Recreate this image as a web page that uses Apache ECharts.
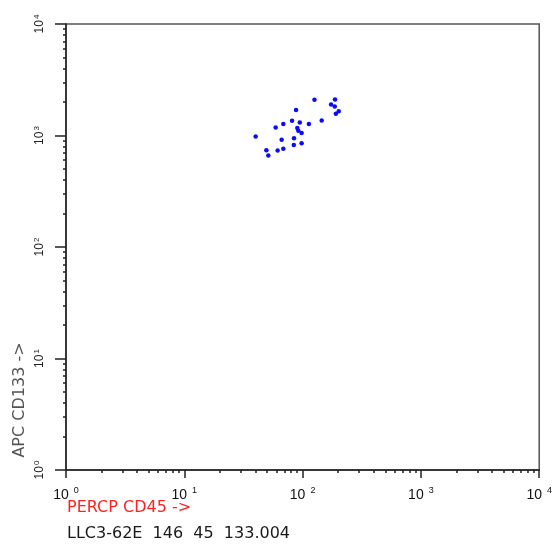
<!DOCTYPE html>
<html><head><meta charset="utf-8">
<script src="https://cdn.jsdelivr.net/npm/echarts@6/dist/echarts.min.js"></script>
<style>html,body{margin:0;padding:0;background:#fff}#c{width:555px;height:547px}</style>
</head><body><div id="c"></div>
<script>
const xValues = [40.1, 49.4, 51.3, 59.2, 61.5, 66.5, 68.7, 68.7, 81.4, 84.6, 84.3, 88.0, 90.2, 92.0, 94.7, 98.1, 98.1, 113, 126, 145, 174, 188, 187, 202, 191];
const yValues = [979, 739, 661, 1180, 733, 915, 759, 1267, 1356, 943, 821, 1696, 1166, 1102, 1309, 1051, 854, 1267, 2096, 1365, 1897, 2104, 1824, 1651, 1568];
const decadeTicks = [1, 10, 100, 1000, 10000];
const exponentLabels = ['0', '1', '2', '3', '4'];
const minorTicks = [2,3,4,5,6,7,8,9,20,30,40,50,60,70,80,90,200,300,400,500,600,700,800,900,2000,3000,4000,5000,6000,7000,8000,9000];
const xTitle = 'PERCP CD45 ->';
const yTitle = 'APC CD133 ->';
const footer = 'LLC3-62E  146  45  133.004';

const points = xValues.map((x, i) => [x, yValues[i]]);
function expLabel(v) {
  const i = decadeTicks.indexOf(Math.round(v));
  return '{b|10}{s|' + (i >= 0 ? exponentLabels[i] : '') + '}';
}
const axisColor = '#222';
const chart = echarts.init(document.getElementById('c'));
chart.setOption({
  animation: false,
  grid: { left: 66, top: 24, width: 475, height: 446, show: true, borderColor: '#555', borderWidth: 1.5, backgroundColor: '#fff' },
  xAxis: [{
    type: 'log', logBase: 10, min: 1, max: 10000,
    axisLine: { show: true, lineStyle: { color: axisColor, width: 1.5 } },
    axisTick: { show: true, length: 8, lineStyle: { color: axisColor, width: 1.5 } },
    splitLine: { show: false },
    axisLabel: {
      margin: 16, formatter: expLabel,
      rich: {
        b: { fontFamily: 'Liberation Sans', fontSize: 14, color: '#111' },
        s: { fontFamily: 'Liberation Sans', fontSize: 9, color: '#111', padding: [0, 0, 9, 5] }
      }
    }
  }, {
    type: 'log', logBase: 10, min: 1, max: 10000, position: 'bottom',
    axisLine: { show: false },
    axisTick: { show: true, length: 3, customValues: minorTicks, lineStyle: { color: axisColor, width: 1.5 } },
    axisLabel: { show: false }, splitLine: { show: false }
  }],
  yAxis: [{
    type: 'log', logBase: 10, min: 1, max: 10000,
    axisLine: { show: true, lineStyle: { color: axisColor, width: 1.5 } },
    axisTick: { show: true, length: 11, lineStyle: { color: axisColor, width: 1.5 } },
    splitLine: { show: false },
    axisLabel: {
      margin: 19, rotate: 90, formatter: expLabel,
      rich: {
        b: { fontFamily: 'Liberation Sans', fontSize: 12, color: '#222' },
        s: { fontFamily: 'Liberation Sans', fontSize: 8, color: '#222', padding: [0, 0, 6, 1] }
      }
    }
  }, {
    type: 'log', logBase: 10, min: 1, max: 10000, position: 'left',
    axisLine: { show: false },
    axisTick: { show: true, length: 3, customValues: minorTicks, lineStyle: { color: axisColor, width: 1.5 } },
    axisLabel: { show: false }, splitLine: { show: false }
  }],
  graphic: [
    { type: 'text', x: 67, y: 508, style: { text: xTitle, fill: '#f22', font: '16px "DejaVu Sans"', textAlign: 'left', textVerticalAlign: 'middle' } },
    { type: 'text', x: 67, y: 534, style: { text: footer, fill: '#1a1a1a', font: '16px "DejaVu Sans"', textAlign: 'left', textVerticalAlign: 'middle' } },
    { type: 'text', x: 20, y: 400, rotation: Math.PI / 2, style: { text: yTitle, fill: '#555', font: '16px "DejaVu Sans"', textAlign: 'center', textVerticalAlign: 'middle' } }
  ],
  series: [{
    type: 'scatter', xAxisIndex: 0, yAxisIndex: 0, data: points,
    symbol: 'circle', symbolSize: 4.5, itemStyle: { color: '#0a0aff', opacity: 1 }
  }]
});
</script></body></html>
